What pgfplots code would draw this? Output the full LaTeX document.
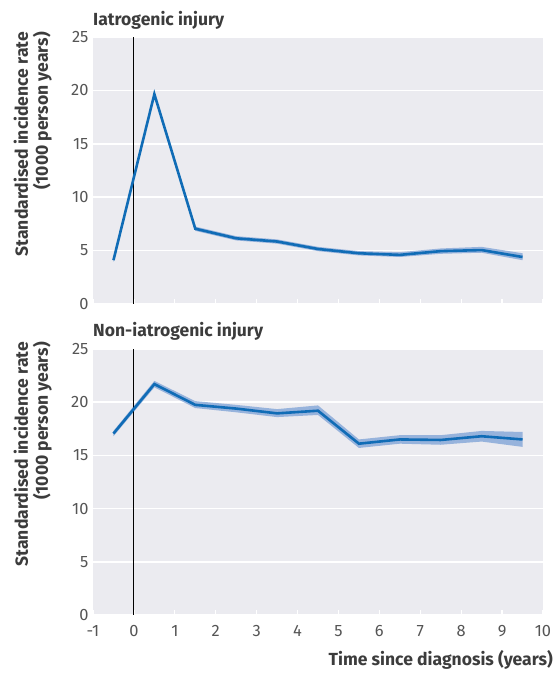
\documentclass[border=0pt]{standalone}
\usepackage{pgfplots}
\pgfplotsset{compat=1.18}
\usepgfplotslibrary{fillbetween}
\usetikzlibrary{calc}
\usepackage{fontspec}
\setmainfont{Fira Sans}
\definecolor{bgcol}{RGB}{235,235,240}
\definecolor{linecol}{RGB}{16,108,182}
\definecolor{bandcol}{RGB}{130,165,215}
\definecolor{tickcol}{RGB}{85,85,85}
\definecolor{titlecol}{RGB}{60,60,60}
\pgfplotsset{
  myaxis/.style={
    scale only axis, width=450bp,
    xmin=-1, xmax=10, ymin=0, ymax=25,
    xtick={-1,0,...,10}, ytick={0,5,...,25},
    axis line style={draw=none},
    axis background/.style={fill=bgcol},
    ymajorgrids, grid style={white, line width=1.5bp},
    tick align=inside, xtick pos=bottom, ytick pos=left,
    major tick length=5bp,
    xtick style={white, line width=1.2bp},
    ytick style={draw=none},
    /pgf/number format/assume math mode=true,
    ticklabel style={font=\fontsize{16.5}{18}\selectfont, text=tickcol},
    yticklabel style={xshift=-1bp},
    clip=false,
  },
}
\begin{document}
\begin{tikzpicture}
\begin{axis}[myaxis, name=top, height=267bp, xticklabels={}]
  \addplot[black, line width=0.9bp] coordinates {(0,0) (0,25)};
  \addplot[name path=u1, draw=none, forget plot] coordinates {
    (-0.5,4.25) (0.5,19.85) (1.5,7.25) (2.5,6.35) (3.5,6.05) (4.5,5.35) (5.5,4.95) (6.5,4.85) (7.5,5.2) (8.5,5.35) (9.5,4.75)};
  \addplot[name path=l1, draw=none, forget plot] coordinates {
    (-0.5,3.95) (0.5,19.45) (1.5,6.85) (2.5,5.95) (3.5,5.65) (4.5,4.95) (5.5,4.55) (6.5,4.4) (7.5,4.7) (8.5,4.8) (9.5,4.1)};
  \addplot[bandcol, opacity=0.8, draw=none] fill between[of=u1 and l1];
  \addplot[linecol, line width=2.6bp] coordinates {
    (-0.5,4.1) (0.5,19.65) (1.5,7.05) (2.5,6.15) (3.5,5.85) (4.5,5.15) (5.5,4.75) (6.5,4.6) (7.5,4.95) (8.5,5.05) (9.5,4.4)};
  \node[anchor=base west, inner sep=0, font=\fontsize{17.6}{20}\selectfont\bfseries, text=titlecol]
    at ($(rel axis cs:0,1)+(0bp,11bp)$) {Iatrogenic injury};
  \node[rotate=90, anchor=south east, align=right, inner sep=0, font=\fontsize{17.6}{20}\selectfont\bfseries, text=titlecol]
    at ($(rel axis cs:0,1)+(-41bp,5bp)$) {Standardised incidence rate\\(1000 person years)};
\end{axis}
\begin{axis}[myaxis, name=bot, height=266bp, at={($(top.south west)+(0bp,-45bp)$)}, anchor=north west,
  xticklabels={-1,0,1,2,3,4,5,6,7,8,9,10}, xticklabel style={yshift=-7bp}]
  \addplot[black, line width=0.9bp] coordinates {(0,0) (0,25)};
  \addplot[name path=u2, draw=none, forget plot] coordinates {
    (-0.5,17.3) (0.5,22.0) (1.5,20.1) (2.5,19.75) (3.5,19.35) (4.5,19.7) (5.5,16.5) (6.5,16.9) (7.5,16.9) (8.5,17.3) (9.5,17.2)};
  \addplot[name path=l2, draw=none, forget plot] coordinates {
    (-0.5,16.8) (0.5,21.4) (1.5,19.45) (2.5,19.05) (3.5,18.6) (4.5,18.8) (5.5,15.7) (6.5,16.1) (7.5,16.0) (8.5,16.3) (9.5,15.8)};
  \addplot[bandcol, opacity=0.8, draw=none] fill between[of=u2 and l2];
  \addplot[linecol, line width=2.6bp] coordinates {
    (-0.5,17.05) (0.5,21.7) (1.5,19.75) (2.5,19.4) (3.5,18.95) (4.5,19.2) (5.5,16.1) (6.5,16.5) (7.5,16.45) (8.5,16.8) (9.5,16.5)};
  \node[anchor=base west, inner sep=0, font=\fontsize{17.6}{20}\selectfont\bfseries, text=titlecol]
    at ($(rel axis cs:0,1)+(0bp,12bp)$) {Non-iatrogenic injury};
  \node[rotate=90, anchor=south east, align=right, inner sep=0, font=\fontsize{17.6}{20}\selectfont\bfseries, text=titlecol]
    at ($(rel axis cs:0,1)+(-41bp,7bp)$) {Standardised incidence rate\\(1000 person years)};
  \node[anchor=base east, inner sep=0, font=\fontsize{17.6}{20}\selectfont\bfseries, text=titlecol]
    at ($(rel axis cs:1,0)+(10bp,-51bp)$) {Time since diagnosis (years)};
\end{axis}
\pgfresetboundingbox
\path ($(top.north west)+(-93bp,37bp)$) rectangle ($(top.north west)+(462bp,-636bp)$);
\end{tikzpicture}
\end{document}
